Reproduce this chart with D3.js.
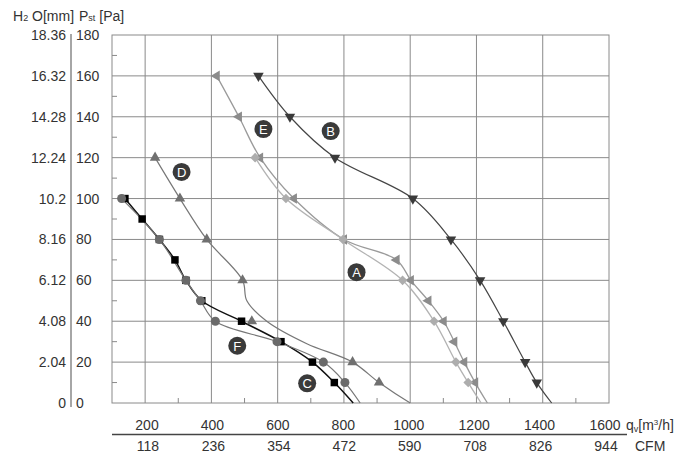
<!DOCTYPE html>
<html>
<head>
<meta charset="utf-8">
<script src="https://cdn.jsdelivr.net/npm/d3@7"></script>
<style>
    body { margin: 0; background: #fff; }
    text { font-family: "Liberation Sans", Arial, sans-serif; fill: #333; }
</style>
</head>
<body>
<div id="chart"></div>
<script>
// pressure ticks [Pa] and the matching mm H2O labels
const paTicks = [0, 20, 40, 60, 80, 100, 120, 140, 160, 180];
const mmLabels = ["0", "2.04", "4.08", "6.12", "8.16", "10.2", "12.24", "14.28", "16.32", "18.36"];
// flow ticks [m3/h] and the matching CFM labels
const qTicks = [200, 400, 600, 800, 1000, 1200, 1400, 1600];
const cfmLabels = ["118", "236", "354", "472", "590", "708", "826", "944"];

// curves: flow q [m3/h] and pressure p [Pa]
const aQ = [532, 625, 797, 977, 1072, 1138, 1175, 1214];
const aP = [120, 100, 80, 60, 40, 20, 10, 0];
const bQ = [542, 637, 773, 1008, 1123, 1211, 1281, 1347, 1382, 1427];
const bP = [160, 140, 120, 100, 80, 60, 40, 20, 10, 0];
const cQ = [139, 191, 243, 290, 323, 371, 491, 610, 705, 771, 828];
const cP = [100, 90, 80, 70, 60, 50, 40, 30, 20, 10, 0];
const dQ = [230, 305, 386, 494, 522, 826, 906, 1000];
const dP = [120, 100, 80, 60, 40, 20, 10, 0];
// the drawn D line does not pass through its 40 Pa marker
const dLineQ = [230, 305, 386, 494, 507, 567, 688, 826, 906, 1000];
const dLineP = [120, 100, 80, 60, 50, 40, 29, 20, 10, 0];
const eQ = [416, 483, 547, 649, 800, 959, 1002, 1055, 1101, 1133, 1163, 1196, 1233];
const eP = [160, 140, 120, 100, 80, 70, 60, 50, 40, 30, 20, 10, 0];
const fQ = [129, 243, 323, 367, 412, 598, 738, 803, 849];
const fP = [100, 80, 60, 50, 40, 30, 20, 10, 0];

// curve labels
const labelNames = ["A", "B", "C", "D", "E", "F"];
const labelQ = [838, 760, 689, 310, 557, 478];
const labelP = [64, 133, 9.6, 113, 134, 28];

const width = 700;
const height = 468;
const plot = { left: 112, right: 609, top: 35, bottom: 403 };

const svg = d3
    .select("#chart")
    .append("svg")
    .attr("width", width)
    .attr("height", height);

const x = d3.scaleLinear().domain([100, 1600]).range([plot.left, plot.right]);
const y = d3.scaleLinear().domain([0, 180]).range([plot.bottom, plot.top]);
// the printed flow labels sit on a slightly tighter spacing than the grid
const xLabel = d3.scaleLinear().domain([200, 1600]).range([147, 605]);

const zip = (qs, ps) => qs.map((q, i) => ({ q, p: ps[i] }));

// grid
const grid = svg.append("g").attr("stroke", "#8a8a8a").attr("stroke-width", 1);
grid.selectAll(".vgrid")
    .data(d3.range(200, 1600, 200))
    .enter()
    .append("line")
    .attr("x1", d => x(d)).attr("x2", d => x(d))
    .attr("y1", y(0)).attr("y2", y(180));
grid.selectAll(".hgrid")
    .data(d3.range(20, 180, 20))
    .enter()
    .append("line")
    .attr("x1", x(100)).attr("x2", x(1600))
    .attr("y1", d => y(d)).attr("y2", d => y(d));
grid.append("rect")
    .attr("x", x(100)).attr("y", y(180))
    .attr("width", x(1600) - x(100)).attr("height", y(0) - y(180))
    .attr("fill", "none");
// minor ticks
grid.selectAll(".ytick")
    .data(d3.range(10, 180, 20))
    .enter()
    .append("line")
    .attr("x1", x(100)).attr("x2", x(100) + 5)
    .attr("y1", d => y(d)).attr("y2", d => y(d));
grid.selectAll(".xtick")
    .data(d3.range(300, 1600, 200))
    .enter()
    .append("line")
    .attr("x1", d => x(d)).attr("x2", d => x(d))
    .attr("y1", y(0)).attr("y2", y(0) - 5);

// y axis labels
svg.append("line")
    .attr("x1", 71).attr("x2", 71)
    .attr("y1", y(180) - 1).attr("y2", y(0) + 4)
    .attr("stroke", "#888").attr("stroke-width", 1.5);
svg.selectAll(".mm")
    .data(paTicks)
    .enter()
    .append("text")
    .attr("x", 66)
    .attr("y", d => y(d) + 5)
    .attr("text-anchor", "end")
    .attr("font-size", 14)
    .text((d, i) => mmLabels[i]);
svg.selectAll(".pa")
    .data(paTicks)
    .enter()
    .append("text")
    .attr("x", 76)
    .attr("y", d => y(d) + 5)
    .attr("font-size", 14)
    .text(d => d);

const h2o = svg.append("text").attr("x", 13).attr("y", 21).attr("font-size", 14);
h2o.append("tspan").text("H");
h2o.append("tspan").attr("font-size", 9).text("2");
h2o.append("tspan").text(" O[mm]");
const pst = svg.append("text").attr("x", 79).attr("y", 21).attr("font-size", 14);
pst.append("tspan").text("P");
pst.append("tspan").attr("font-size", 9).text("st");
pst.append("tspan").text(" [Pa]");

// x axis labels
svg.selectAll(".qlab")
    .data(qTicks)
    .enter()
    .append("text")
    .attr("x", d => xLabel(d))
    .attr("y", 430)
    .attr("text-anchor", "middle")
    .attr("font-size", 14)
    .text(d => d);
svg.selectAll(".cfm")
    .data(qTicks)
    .enter()
    .append("text")
    .attr("x", d => xLabel(d) + 1)
    .attr("y", 451)
    .attr("text-anchor", "middle")
    .attr("font-size", 14)
    .text((d, i) => cfmLabels[i]);
svg.append("line")
    .attr("x1", x(100)).attr("x2", 627)
    .attr("y1", 434.5).attr("y2", 434.5)
    .attr("stroke", "#444").attr("stroke-width", 1.3);

const qv = svg.append("text").attr("x", 626).attr("y", 430).attr("font-size", 14);
qv.append("tspan").text("q");
qv.append("tspan").attr("font-size", 9).attr("dy", 2).text("v");
qv.append("tspan").attr("dy", -2).text("[m");
qv.append("tspan").attr("font-size", 8).attr("dy", -5).text("3");
qv.append("tspan").attr("dy", 5).text("/h]");
svg.append("text").attr("x", 635).attr("y", 451).attr("font-size", 14).text("CFM");

// curves
const line = d3
    .line()
    .x(d => x(d.q))
    .y(d => y(d.p))
    .curve(d3.curveCatmullRom.alpha(0.5));

const series = [
    { pts: zip(dLineQ, dLineP), marks: zip(dQ, dP), color: "#777", mark: "#707070", shape: d3.symbolTriangle, rot: 0, size: 48, w: 1.2 },
    { pts: zip(bQ, bP), marks: zip(bQ, bP), color: "#454545", mark: "#3a3a3a", shape: d3.symbolTriangle, rot: 180, size: 48, w: 1.2 },
    { pts: zip(eQ, eP), marks: zip(eQ, eP), color: "#9a9a9a", mark: "#8c8c8c", shape: d3.symbolTriangle, rot: -90, size: 48, w: 1.3 },
    { pts: zip(aQ, aP), marks: zip(aQ, aP), color: "#b3b3b3", mark: "#adadad", shape: d3.symbolSquare, rot: 45, size: 46, w: 1.3 },
    { pts: zip(cQ, cP), marks: zip(cQ, cP), color: "#111", mark: "#000", shape: d3.symbolSquare, rot: 0, size: 56, w: 1.5 },
    { pts: zip(fQ, fP), marks: zip(fQ, fP), color: "#777", mark: "#6a6a6a", shape: d3.symbolCircle, rot: 0, size: 64, w: 1.2 }
];

series.forEach(s => {
    svg.append("path")
        .datum(s.pts)
        .attr("fill", "none")
        .attr("stroke", s.color)
        .attr("stroke-width", s.w)
        .attr("d", line);
});

series.forEach(s => {
    const sym = d3.symbol().type(s.shape).size(s.size);
    svg.selectAll(null)
        .data(s.marks.filter(d => d.p > 0))
        .enter()
        .append("path")
        .attr("d", sym)
        .attr("fill", s.mark)
        .attr("transform", d => `translate(${x(d.q)},${y(d.p)}) rotate(${s.rot})`);
});

// curve badges
const badges = svg.selectAll(".badge")
    .data(labelNames)
    .enter()
    .append("g")
    .attr("transform", (d, i) => `translate(${x(labelQ[i])},${y(labelP[i])})`);
badges.append("circle").attr("r", 9).attr("fill", "#3a3a3a");
badges.append("text")
    .attr("y", 5)
    .attr("text-anchor", "middle")
    .attr("font-size", 13)
    .style("fill", "#fff")
    .text(d => d);
</script>
</body>
</html>
